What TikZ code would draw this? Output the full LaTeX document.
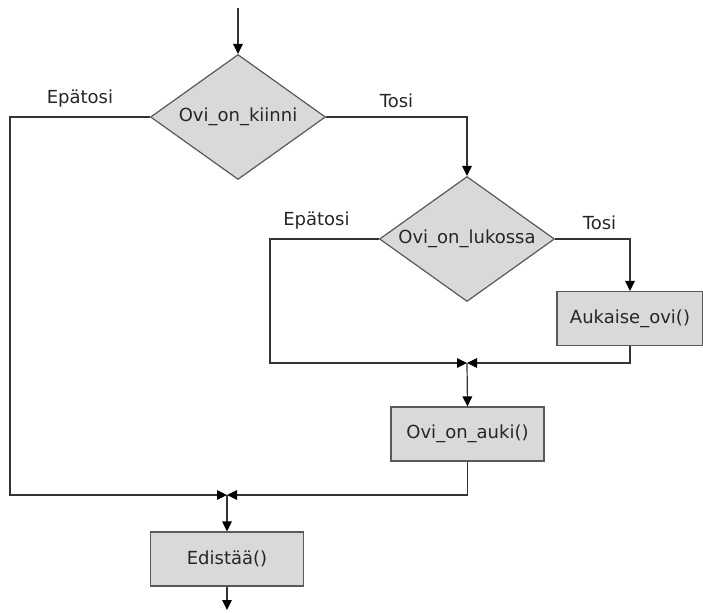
\documentclass[tikz,border=0pt]{standalone}
\usepackage{fontspec}
\setmainfont{DejaVu Sans}
\usetikzlibrary{shapes.geometric,arrows.meta}
\begin{document}
\begin{tikzpicture}[x=0.5pt,y=-0.5pt,
  every node/.style={font=\fontsize{9}{11}\selectfont, text=black!85},
  ehto/.style={diamond, draw=black!65, line width=0.6pt, fill=black!15, aspect=1.4,
    inner sep=0pt, minimum width=87.5pt, minimum height=62.5pt},
  toiminto/.style={rectangle, draw=black!65, line width=0.6pt, fill=black!15,
    minimum width=76.5pt, minimum height=27pt},
  nuoli/.style={draw=black!80, line width=0.6pt, -{Triangle[length=5pt,width=4.8pt,color=black]}},
  haara/.style={midway, above=1pt}]
\useasboundingbox (0,0) rectangle (703,612);
% solmut
\coordinate (alku) at (238,8);
\node[ehto] (kiinni) at (238,117) {Ovi\_on\_kiinni};
\node[ehto] (lukossa) at (467,239) {Ovi\_on\_lukossa};
\node[toiminto, minimum width=73pt] (aukaise) at (630,318.5) {Aukaise\_ovi()};
\node[toiminto] (auki) at (467.5,434) {Ovi\_on\_auki()};
\node[toiminto] (edista) at (227,559) {Edistää()};
\coordinate (liitos1) at (227,495);
\coordinate (liitos2) at (467,363);
\coordinate (loppu) at (227,610);
% yhteydet
\draw[nuoli] (alku) -- (kiinni.north);
\draw[nuoli] (kiinni.west) -- node[haara] {Epätosi} ++(-140,0) |- (liitos1);
\draw[nuoli] (kiinni.east) -- node[haara] {Tosi} (kiinni.east -| lukossa.north) -- (lukossa.north);
\draw[nuoli] (lukossa.west) -- node[haara, xshift=-4pt] {Epätosi} ++(-109,0) |- (liitos2);
\draw[nuoli] (lukossa.east) -- node[haara, xshift=3.5pt] {Tosi} (lukossa.east -| aukaise.north) -- (aukaise.north);
\draw[nuoli] (aukaise.south) |- (liitos2);
\draw[nuoli] (liitos2) -- (auki.north);
\draw[nuoli] (auki.south) |- (liitos1);
\draw[nuoli] (liitos1) -- (edista.north);
\draw[nuoli] (edista.south) -- (loppu);
\end{tikzpicture}
\end{document}
